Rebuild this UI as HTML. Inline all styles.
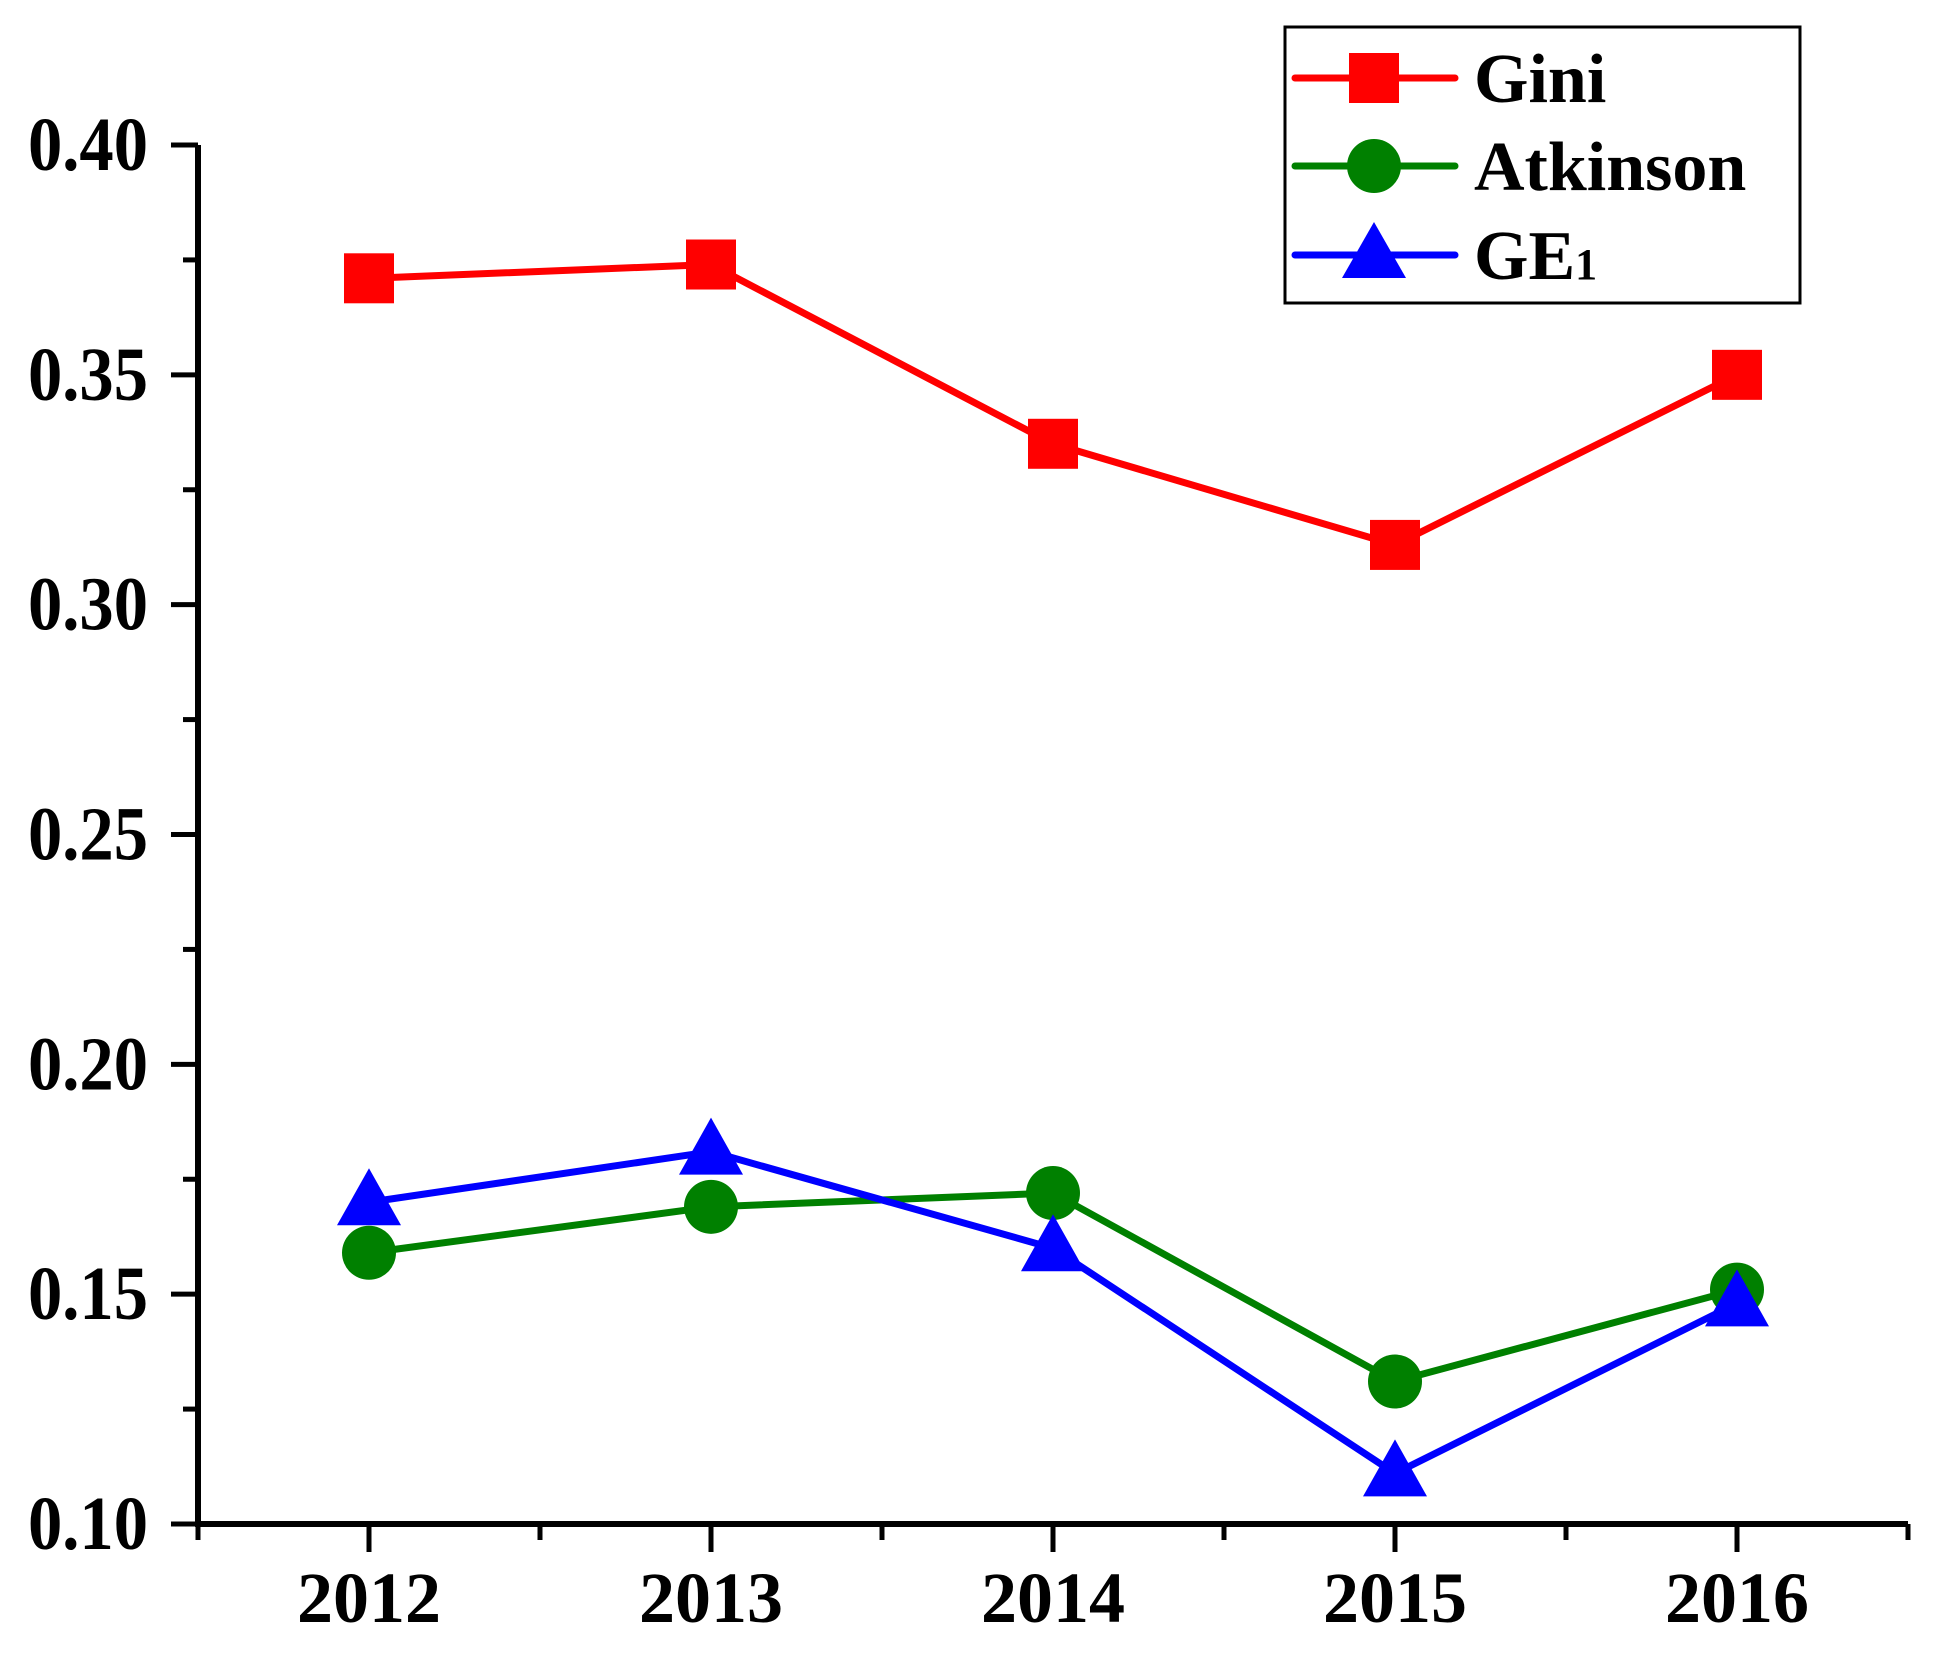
<!DOCTYPE html>
<html><head><meta charset="utf-8"><style>
html,body{margin:0;padding:0;background:#fff;}
svg text{font-family:"Liberation Serif",serif;font-weight:bold;}
</style></head><body>
<svg id="chart" width="1934" height="1654" viewBox="0 0 1934 1654" xmlns="http://www.w3.org/2000/svg">
<g id="axes"></g>
<g id="series"></g>
<g id="legend">
  <rect x="1285" y="27" width="515" height="276" fill="#fff" stroke="#000" stroke-width="3"/>
  <g>
    <line x1="1295" y1="78" x2="1455" y2="78" stroke="#ff0000" stroke-width="7" stroke-linecap="round"/>
    <rect x="1349" y="53" width="50" height="50" fill="#ff0000"/>
    <text x="1474" y="102" font-size="70">Gini</text>
  </g>
  <g>
    <line x1="1295" y1="166" x2="1455" y2="166" stroke="#008000" stroke-width="7" stroke-linecap="round"/>
    <circle cx="1374" cy="166" r="27" fill="#008000"/>
    <text x="1474" y="190" font-size="70">Atkinson</text>
  </g>
  <g>
    <line x1="1295" y1="255" x2="1455" y2="255" stroke="#0000ff" stroke-width="7" stroke-linecap="round"/>
    <polygon points="1374,222 1406,278 1342,278" fill="#0000ff"/>
    <text x="1474" y="279" font-size="70">GE<tspan font-size="44">1</tspan></text>
  </g>
</g>
</svg>
<script>
const years = [2012, 2013, 2014, 2015, 2016];
const gini = [0.371, 0.374, 0.335, 0.313, 0.350];
const atkinson = [0.159, 0.169, 0.172, 0.131, 0.151];
const ge1 = [0.170, 0.181, 0.160, 0.111, 0.148];
const yTicks = ["0.10", "0.15", "0.20", "0.25", "0.30", "0.35", "0.40"];

const NS = "http://www.w3.org/2000/svg";
const X0 = 198, X1 = 1908, Y0 = 1524, Y1 = 145;
const yMin = 0.10, yMax = 0.40;
function xs(i){ return 369 + i * (1737 - 369) / (years.length - 1); }
function ys(v){ return Y0 - (v - yMin) / (yMax - yMin) * (Y0 - Y1); }
function mk(tag, attrs, parent){
  const e = document.createElementNS(NS, tag);
  for (const k in attrs) e.setAttribute(k, attrs[k]);
  parent.appendChild(e); return e;
}
const axes = document.getElementById('axes');
let e;
e = mk('line', {x1:X0, y1:Y1, x2:X0, y2:Y0+3, stroke:'#000','stroke-width':6}, axes);


e = mk('line', {x1:X0-3, y1:Y0, x2:X1, y2:Y0, stroke:'#000','stroke-width':6}, axes);


for (let k = 0; k <= 12; k++){
  const v = yMin + k * 0.025;
  const major = k % 2 === 0;
  const y = ys(v);
  e = mk('line', {x1:X0 - (major ? 27 : 15), y1:y, x2:X0, y2:y, stroke:'#000','stroke-width':5}, axes);
  
  
}
yTicks.forEach(function(t){
  const v = parseFloat(t);
  e = mk('text', {x:28, y:ys(v) + 25, 'text-anchor':'start', 'font-size':76, textLength:120, lengthAdjust:'spacingAndGlyphs'}, axes);
  e.textContent = t;
  
  
});
for (let k = 0; k <= years.length * 2; k++){
  const major = k % 2 === 1;
  const x = xs(-0.5 + k * 0.5);
  e = mk('line', {x1:x, y1:Y0, x2:x, y2:Y0 + (major ? 28 : 16), stroke:'#000','stroke-width':5}, axes);
  
  
}
years.forEach(function(yr, i){
  e = mk('text', {x:xs(i), y:1622, 'text-anchor':'middle', 'font-size':72}, axes);
  e.textContent = String(yr);
  
  
});
const series = document.getElementById('series');
function drawSeries(vals, color, shape, name){
  const g = mk('g', {}, series);
  
  
  const pts = vals.map(function(v, i){ return xs(i) + ',' + ys(v); }).join(' ');
  const pl = mk('polyline', {points:pts, fill:'none', stroke:color, 'stroke-width':7, 'stroke-linejoin':'round'}, g);
  
  
  vals.forEach(function(v, i){
    const x = xs(i), y = ys(v);
    let m;
    if (shape === 'square') m = mk('rect', {x:x-25, y:y-25, width:50, height:50, fill:color}, g);
    else if (shape === 'circle') m = mk('circle', {cx:x, cy:y, r:27, fill:color}, g);
    else m = mk('polygon', {points:(x)+','+(y-34)+' '+(x+32)+','+(y+23)+' '+(x-32)+','+(y+23), fill:color}, g);
    
    
  });
}
drawSeries(gini, '#ff0000', 'square', 'gini');
drawSeries(atkinson, '#008000', 'circle', 'atkinson');
drawSeries(ge1, '#0000ff', 'triangle', 'ge1');
</script>
</body></html>
